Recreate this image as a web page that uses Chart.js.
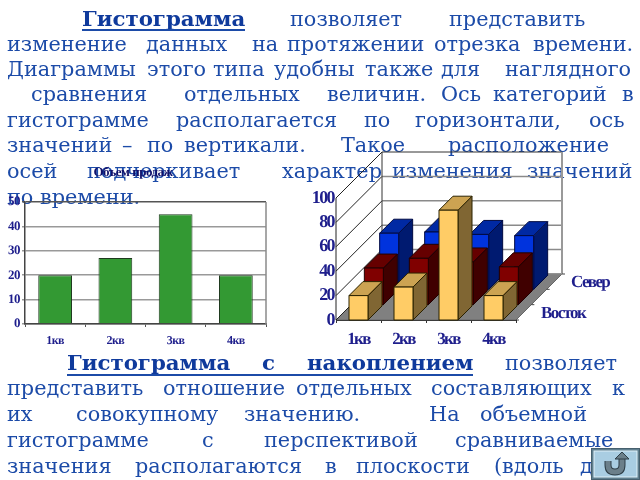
<!DOCTYPE html>
<html><head><meta charset="utf-8">
<script src="https://cdn.jsdelivr.net/npm/chart.js@4"></script>
<style>
html,body{margin:0;padding:0;background:#fff;overflow:hidden;width:640px;height:480px}
.w{position:absolute;white-space:nowrap;font-family:"DejaVu Serif",serif;font-size:20.8px;line-height:24px;color:#1c4ba8}
.b{font-weight:bold;color:#0f3a9c;font-size:21.3px}
.u{position:absolute;height:2px;background:#1c4ba8}
#txt{filter:blur(0.3px)}
canvas{position:absolute;filter:blur(0.4px)}
#wrapL{position:absolute;left:0;top:165px;width:278px;height:185px}
#wrapR{position:absolute;left:300px;top:145px;width:340px;height:215px}
svg{position:absolute;left:591px;top:448px}
</style></head><body>
<div id="txt"></div>
<div id="wrapL"><canvas id="c1"></canvas></div>
<div id="wrapR"><canvas id="c2"></canvas></div>
<svg width="49" height="32" viewBox="0 0 49 32">
<rect x="0.5" y="0.5" width="48" height="31" fill="#5f7f8f" stroke="#47606e"/>
<rect x="3" y="3" width="43" height="26" fill="#a9cde2" stroke="#dff0f8"/>
<path d="M17 13 V17 Q17 24 24 24 Q31 24 31 17 V10" fill="none" stroke="#2f3f48" stroke-width="7"/>
<path d="M17 13 V17 Q17 24 24 24 Q31 24 31 17 V10" fill="none" stroke="#6b7f8a" stroke-width="5"/>
<path d="M24 11 L31 4 L38 11 Z" fill="#6b7f8a" stroke="#2f3f48"/>
</svg>
<script>
// ---- data ----
const salesCategories = ['1кв','2кв','3кв','4кв'];
const salesValues = [20,27,45,20];
const salesTitle = 'Объем продаж';
const seriesFront = [20,27,90,20];
const seriesEast = [30,38,35,31];
const seriesNorth = [46,47,45,44];
const depthLabels = ['Восток','Север'];

// ---- text (top y, then x/word pairs) ----
const lines = [
 [7,[[82,'Гистограмма',1],[290,'позволяет'],[449,'представить']]],
 [32,[[7,'изменение'],[146,'данных'],[252,'на'],[287,'протяжении'],[434,'отрезка'],[533,'времени.']]],
 [57,[[7,'Диаграммы'],[147,'этого'],[213,'типа'],[274,'удобны'],[365,'также'],[441,'для'],[505,'наглядного']]],
 [82,[[31,'сравнения'],[184,'отдельных'],[327,'величин.'],[441,'Ось'],[493,'категорий'],[622,'в']]],
 [108,[[7,'гистограмме'],[176,'располагается'],[364,'по'],[415,'горизонтали,'],[589,'ось']]],
 [133,[[7,'значений'],[122,'–'],[147,'по'],[184,'вертикали.'],[341,'Такое'],[448,'расположение']]],
 [159,[[7,'осей'],[87,'подчеркивает'],[282,'характер'],[392,'изменения'],[527,'значений']]],
 [185,[[7,'по'],[40,'времени.']]],
 [351,[[67,'Гистограмма',1],[262,'с',1],[307,'накоплением',1],[505,'позволяет']]],
 [376,[[7,'представить'],[163,'отношение'],[296,'отдельных'],[431,'составляющих'],[612,'к']]],
 [402,[[7,'их'],[76,'совокупному'],[244,'значению.'],[429,'На'],[480,'объемной']]],
 [428,[[7,'гистограмме'],[202,'с'],[264,'перспективой'],[455,'сравниваемые']]],
 [454,[[7,'значения'],[135,'располагаются'],[325,'в'],[356,'плоскости'],[494,'(вдоль'],[580,'д']]]
];
const txt = document.getElementById('txt');
lines.forEach(([y,ws])=>ws.forEach(([x,w,b])=>{
  const s=document.createElement('div');s.className='w'+(b?' b':'');s.textContent=w;
  s.style.left=x+'px';s.style.top=y+'px';txt.appendChild(s);
}));
[[82,163,29],[67,406,374]].forEach(([x,w,y])=>{
  const u=document.createElement('div');u.className='u';u.style.left=x+'px';u.style.width=w+'px';u.style.top=y+'px';txt.appendChild(u);
});

const navy='#1e1e8c';
// ---- left chart ----
new Chart(document.getElementById('c1'),{
 type:'bar',
 data:{labels:salesCategories,datasets:[{data:salesValues,backgroundColor:'#339933',borderColor:'#1f3a1f',borderWidth:1,barPercentage:0.56,categoryPercentage:1}]},
 plugins:[{id:'frameL',beforeDraw(c){c.ctx.textRendering='geometricPrecision';c.ctx.letterSpacing='-0.5px';},
  beforeDatasetsDraw(c){const a=c.chartArea,x=c.ctx;x.save();x.strokeStyle='#8a8a8a';x.lineWidth=1.5;x.beginPath();x.moveTo(a.right,a.top);x.lineTo(a.right,a.bottom);x.stroke();x.restore();}}],
 options:{responsive:true,maintainAspectRatio:false,animation:false,devicePixelRatio:1,
  layout:{padding:{left:0,right:12,top:0,bottom:0}},
  plugins:{legend:{display:false},tooltip:{enabled:false},
   title:{display:true,text:salesTitle,color:'#10106a',font:{family:'Liberation Serif',size:13,weight:'bold',lineHeight:1},padding:{top:1,bottom:23}}},
  scales:{
   x:{grid:{drawOnChartArea:false,color:'#555',tickLength:3},border:{color:'#444',width:1.5},
      ticks:{color:navy,padding:7,maxRotation:0,font:{family:'Liberation Serif',size:12,weight:'bold'}},
      afterFit(s){s.height=26;}},
   y:{min:0,max:50,grid:{color:(k)=>k.tick.value===50?'#555':'#999',lineWidth:1.5,tickLength:3},border:{color:'#444',width:1.5},
      ticks:{stepSize:10,autoSkip:false,color:navy,padding:2,font:{family:'Liberation Serif',size:13,weight:'bold'}},
      afterFit(s){s.width=25;}}
  }}
});

// ---- 3D chart ----
const DEPTH=46, ROWS=3, BAR_D=14;
const looks=[
 {front:'#ffcc66',top:'#cca352',side:'#806633',line:'#2b2200'},
 {front:'#800000',top:'#660000',side:'#400000',line:'#200000'},
 {front:'#0033dd',top:'#0029a3',side:'#001a70',line:'#000a40'}];
function poly(x,pts,fill,line){x.beginPath();pts.forEach((p,i)=>i?x.lineTo(p[0],p[1]):x.moveTo(p[0],p[1]));x.closePath();x.fillStyle=fill;x.fill();x.strokeStyle=line;x.lineWidth=1;x.stroke();}
const walls={id:'walls',
 beforeDraw(c){c.ctx.textRendering='geometricPrecision';c.ctx.letterSpacing='-1.6px';},
 beforeDatasetsDraw(c){
  const a=c.chartArea,x=c.ctx,ys=c.scales.y,D=DEPTH;
  x.save();
  x.letterSpacing='0px';
  poly(x,[[a.left,a.bottom],[a.left+D,a.bottom-D],[a.right+D,a.bottom-D],[a.right,a.bottom]],'#808080','#666');
  ys.ticks.forEach(t=>{const p=ys.getPixelForValue(t.value);
    x.strokeStyle='#222';x.lineWidth=1;x.beginPath();x.moveTo(a.left,p);x.lineTo(a.left+D,p-D);x.stroke();
    x.strokeStyle=t.value===100?'#333':'#8a8a8a';x.lineWidth=t.value===100?1:1.5;x.beginPath();x.moveTo(a.left+D,p-D);x.lineTo(a.right+D,p-D);x.stroke();
  });
  x.strokeStyle='#333';x.lineWidth=1;x.beginPath();x.moveTo(a.left+D,a.top-D);x.lineTo(a.left+D,a.bottom-D);x.stroke();
  x.strokeStyle='#999';x.lineWidth=2;x.beginPath();x.moveTo(a.right+D,a.top-D);x.lineTo(a.right+D,a.bottom-D);x.stroke();
  x.strokeStyle='#222';x.lineWidth=1;x.beginPath();x.moveTo(a.left,a.top);x.lineTo(a.left,a.bottom);x.stroke();
  x.strokeStyle='#444';
  for(let i=0;i<=ROWS;i++){const d=i*D/ROWS;x.beginPath();x.moveTo(a.right+d,a.bottom-d);x.lineTo(a.right+d+3,a.bottom-d);x.stroke();}
  x.fillStyle=navy;x.font='bold 17px "Liberation Serif"';x.letterSpacing='-1.6px';x.textBaseline='middle';x.textAlign='left';
  depthLabels.forEach((l,i)=>{x.fillText(l,a.right+25+i*30,a.bottom-6-i*31);});
  x.restore();
 },
 beforeDatasetDraw(c,args){
  const x=c.ctx,i=args.index,L=looks[i],o=i*DEPTH/ROWS,d=BAR_D;
  x.save();
  args.meta.data.forEach(b=>{
   const l=b.x-b.width/2+o,r=b.x+b.width/2+o,t=b.y-o,bt=b.base-o;
   poly(x,[[r,bt],[r+d,bt-d],[r+d,t-d],[r,t]],L.side,L.line);
   poly(x,[[l,t],[r,t],[r+d,t-d],[l+d,t-d]],L.top,L.line);
   poly(x,[[l,t],[r,t],[r,bt],[l,bt]],L.front,L.line);
  });
  x.restore();
  return false;
 }};
new Chart(document.getElementById('c2'),{
 type:'bar',
 data:{labels:salesCategories,datasets:[seriesFront,seriesEast,seriesNorth].map(v=>({data:v,grouped:false,barPercentage:19/45,categoryPercentage:1,backgroundColor:'#000'}))},
 plugins:[walls],
 options:{responsive:true,maintainAspectRatio:false,animation:false,devicePixelRatio:1,
  layout:{padding:{left:0,right:124,top:53,bottom:0}},
  plugins:{legend:{display:false},tooltip:{enabled:false},title:{display:false}},
  scales:{
   x:{grid:{drawOnChartArea:false,color:'#333',tickLength:3},border:{color:'#111'},
      ticks:{color:navy,padding:6,maxRotation:0,font:{family:'Liberation Serif',size:17,weight:'bold'}},
      afterFit(s){s.height=40;}},
   y:{min:0,max:100,grid:{display:false},border:{display:false},
      ticks:{stepSize:20,autoSkip:false,color:navy,padding:-6,font:{family:'Liberation Serif',size:18,weight:'bold'}},
      afterFit(s){s.width=36;}}
  }}
});
</script></body></html>
